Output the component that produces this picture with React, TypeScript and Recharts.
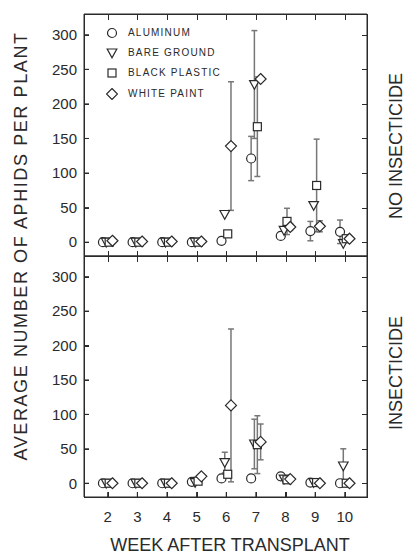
import * as React from "react";
import { ScatterChart, Scatter, XAxis, YAxis, ErrorBar } from "recharts";

// weeks after transplant and the y ticks
const weeks = [2, 3, 4, 5, 6, 7, 8, 9, 10];
const yTicks = [0, 50, 100, 150, 200, 250, 300];
const seriesNames = ["ALUMINUM", "BARE GROUND", "BLACK PLASTIC", "WHITE PAINT"];

// no insecticide (top panel)
const aluminumNo = [0, 0, 0, 0, 2, 121, 9, 16, 15];
const bareNo = [0, 0, 0, 0, 40, 228, 17, 53, -2];
const blackNo = [0, 0, 0, 0, 12, 167, 30, 82, 5];
const whiteNo = [2, 1, 1, 1, 139, 236, 22, 23, 5];
const aluminumNoErr = [0, 0, 0, 0, 0, 32, 0, 14, 17];
const bareNoErr = [0, 0, 0, 0, 0, 78, 0, 0, 0];
const blackNoErr = [0, 0, 0, 0, 0, 72, 19, 67, 0];
const whiteNoErr = [0, 0, 0, 0, 93, 0, 5, 8, 0];

// insecticide (bottom panel)
const aluminumIn = [0, 0, 0, 2, 7, 7, 10, 1, 0];
const bareIn = [0, 0, 0, 1, 30, 57, 6, 1, 25];
const blackIn = [0, 0, 0, 3, 13, 56, 5, 1, 0];
const whiteIn = [0, 0, 0, 10, 113, 60, 6, 0, 0];
const aluminumInErr = [0, 0, 0, 0, 0, 0, 0, 0, 0];
const bareInErr = [0, 0, 0, 0, 15, 36, 0, 0, 25];
const blackInErr = [0, 0, 0, 0, 0, 42, 0, 0, 0];
const whiteInErr = [0, 0, 0, 0, 111, 26, 0, 0, 0];

const kinds = ["circle", "triangle", "square", "diamond"];
const dodge = [-0.16, -0.05, 0.05, 0.16];
const FONT = '"Liberation Sans", Arial, Helvetica, sans-serif';
const INK = "#2a2a2a";
const line = { stroke: INK, strokeWidth: 1 };

const xDomain: [number, number] = [1.2, 10.75];
const yDomain: [number, number] = [-20, 330];

// panel boxes (page pixels), matching the chart margins below
const PLOT_LEFT = 84;
const PLOT_RIGHT = 406 - 38 - 1;
const panels = [
    { chartTop: 0, height: 260, margin: { top: 13, right: 38, bottom: 3, left: 0 }, plotTop: 14, plotBottom: 256 },
    { chartTop: 252, height: 303, margin: { top: 3, right: 38, bottom: 28, left: 0 }, plotTop: 256, plotBottom: 497 },
];

const build = (values: number[], errs: number[], k: number) =>
    weeks.map((w, i) => ({ x: w + dodge[k], y: values[i], err: errs[i] }));

const Marker = ({ kind, cx, cy }: { kind: string; cx: number; cy: number }) => {
    const common = { fill: "#fff", stroke: INK, strokeWidth: 1.2 };
    if (kind === "circle") return <circle cx={cx} cy={cy} r={4.5} {...common} />;
    if (kind === "triangle")
        return <polygon points={`${cx - 4.8},${cy - 4} ${cx + 4.8},${cy - 4} ${cx},${cy + 4.8}`} {...common} />;
    if (kind === "square") return <rect x={cx - 4} y={cy - 4} width={8} height={8} {...common} />;
    return <polygon points={`${cx},${cy - 5.5} ${cx + 5.5},${cy} ${cx},${cy + 5.5} ${cx - 5.5},${cy}`} {...common} />;
};

interface PanelProps {
    series: { values: number[]; errs: number[] }[];
    bottomLabels: boolean;
    height: number;
    margin: { top: number; right: number; bottom: number; left: number };
}

const Panel: React.FC<PanelProps> = ({ series, bottomLabels, height, margin }) => (
    <ScatterChart width={406} height={height} margin={margin}>
        <XAxis
            xAxisId={0}
            type="number"
            dataKey="x"
            domain={xDomain}
            ticks={weeks}
            interval={0}
            height={bottomLabels ? 30 : 1}
            tickSize={-5}
            tickMargin={bottomLabels ? 19 : 0}
            tick={bottomLabels ? { fontSize: 15, fill: INK } : false}
            axisLine={line}
            tickLine={line}
        />
        <XAxis xAxisId="top" orientation="top" type="number" domain={xDomain} ticks={weeks} interval={0} height={1} tickSize={-5} tick={false} axisLine={line} tickLine={line} />
        <YAxis
            yAxisId={0}
            type="number"
            dataKey="y"
            domain={yDomain}
            ticks={yTicks}
            interval={0}
            width={84}
            tickSize={-5}
            tickMargin={12}
            tick={{ fontSize: 15, fill: INK }}
            axisLine={line}
            tickLine={line}
        />
        <YAxis yAxisId="right" orientation="right" type="number" domain={yDomain} ticks={yTicks} interval={0} width={1} tickSize={-5} tick={false} axisLine={line} tickLine={line} />
        {series.map((s, k) => (
            <Scatter
                key={kinds[k]}
                name={seriesNames[k]}
                data={build(s.values, s.errs, k)}
                isAnimationActive={false}
                shape={(p: any) => <Marker kind={kinds[k]} cx={p.cx} cy={p.cy} />}
            >
                <ErrorBar dataKey="err" direction="y" width={3} stroke="#777" isAnimationActive={false} />
            </Scatter>
        ))}
    </ScatterChart>
);

// frame and inward ticks, drawn over the charts from the same domains
const Frame = () => {
    const sx = (w: number) => PLOT_LEFT + ((w - xDomain[0]) / (xDomain[1] - xDomain[0])) * (PLOT_RIGHT - PLOT_LEFT);
    return (
        <svg width={406} height={555} style={{ position: "absolute", left: 0, top: 0, pointerEvents: "none" }}>
            {panels.map((p, i) => {
                const sy = (v: number) => p.plotBottom - ((v - yDomain[0]) / (yDomain[1] - yDomain[0])) * (p.plotBottom - p.plotTop);
                return (
                    <g key={i} stroke={INK} strokeWidth={1} fill="none">
                        <rect x={PLOT_LEFT + 0.5} y={p.plotTop + 0.5} width={PLOT_RIGHT - PLOT_LEFT} height={p.plotBottom - p.plotTop} />
                        {weeks.map((w) => (
                            <g key={w}>
                                <line x1={Math.round(sx(w)) + 0.5} x2={Math.round(sx(w)) + 0.5} y1={p.plotTop} y2={p.plotTop + 6} />
                                <line x1={Math.round(sx(w)) + 0.5} x2={Math.round(sx(w)) + 0.5} y1={p.plotBottom + 1} y2={p.plotBottom - 5} />
                            </g>
                        ))}
                        {yTicks.map((t) => (
                            <g key={t}>
                                <line x1={PLOT_LEFT} x2={PLOT_LEFT + 5} y1={Math.round(sy(t)) + 0.5} y2={Math.round(sy(t)) + 0.5} />
                                <line x1={PLOT_RIGHT + 1} x2={PLOT_RIGHT - 5} y1={Math.round(sy(t)) + 0.5} y2={Math.round(sy(t)) + 0.5} />
                            </g>
                        ))}
                    </g>
                );
            })}
        </svg>
    );
};

const legendRows = [33, 53, 73, 94];

const Rotated = ({ text, cx, cy, size, spacing = 0 }: { text: string; cx: number; cy: number; size: number; spacing?: number }) => (
    <div
        style={{
            position: "absolute",
            left: cx - 230,
            top: cy - size / 2,
            width: 460,
            height: size,
            lineHeight: `${size}px`,
            fontSize: size,
            letterSpacing: spacing,
            textAlign: "center",
            whiteSpace: "nowrap",
            color: INK,
            transform: "rotate(-90deg)",
            transformOrigin: "50% 50%",
        }}
    >
        {text}
    </div>
);

export default function App() {
    const top = [
        { values: aluminumNo, errs: aluminumNoErr },
        { values: bareNo, errs: bareNoErr },
        { values: blackNo, errs: blackNoErr },
        { values: whiteNo, errs: whiteNoErr },
    ];
    const bottom = [
        { values: aluminumIn, errs: aluminumInErr },
        { values: bareIn, errs: bareInErr },
        { values: blackIn, errs: blackInErr },
        { values: whiteIn, errs: whiteInErr },
    ];

    return (
        <div style={{ position: "absolute", left: 0, top: 0, width: 406, height: 555, background: "#fff", fontFamily: FONT, overflow: "hidden" }}>
            <div style={{ position: "absolute", left: 0, top: panels[0].chartTop, width: 406, height: panels[0].height }}>
                <Panel series={top} bottomLabels={false} height={panels[0].height} margin={panels[0].margin} />
            </div>
            <div style={{ position: "absolute", left: 0, top: panels[1].chartTop, width: 406, height: panels[1].height }}>
                <Panel series={bottom} bottomLabels height={panels[1].height} margin={panels[1].margin} />
            </div>
            <Frame />
            {seriesNames.map((name, k) => (
                <div
                    key={name}
                    style={{ position: "absolute", left: 106, top: legendRows[k] - 6, height: 12, display: "flex", alignItems: "center", whiteSpace: "nowrap" }}
                >
                    <svg width={12} height={12} style={{ display: "block" }}>
                        <Marker kind={kinds[k]} cx={6} cy={6} />
                    </svg>
                    <span style={{ marginLeft: 10, fontSize: 10, letterSpacing: 1.2, color: INK, lineHeight: "12px" }}>{name}</span>
                </div>
            ))}
            <div style={{ position: "absolute", left: 30, top: 536, width: 400, fontSize: 18, lineHeight: "18px", textAlign: "center", color: INK }}>
                WEEK AFTER TRANSPLANT
            </div>
            <Rotated text="AVERAGE NUMBER OF APHIDS PER PLANT" cx={21} cy={246} size={18} spacing={1.6} />
            <Rotated text="NO INSECTICIDE" cx={396} cy={146} size={18} />
            <Rotated text="INSECTICIDE" cx={396} cy={373} size={18} />
        </div>
    );
}
